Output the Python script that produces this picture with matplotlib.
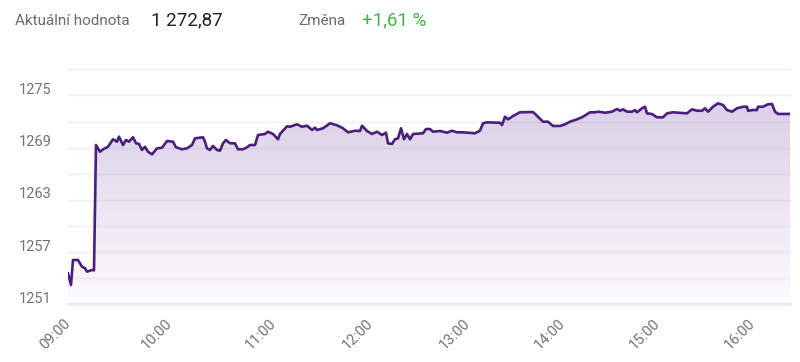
import matplotlib
matplotlib.use("Agg")
import matplotlib.pyplot as plt
import matplotlib.transforms as mtransforms
from matplotlib.colors import LinearSegmentedColormap
import numpy as np

plt.rcParams['font.family'] = ['Roboto', 'DejaVu Sans']

# sample position on the category axis (one slot per trade tick) and index value
slot = [0, 3, 5, 10, 14, 17, 19, 24, 26, 28, 32, 35, 40, 45, 49, 51, 55, 58, 61, 65,
        68, 71, 74, 77, 80, 84, 89, 94, 99, 105, 108, 114, 119, 124, 127, 135, 137, 139, 142, 145,
        149, 152, 155, 158, 162, 167, 170, 175, 179, 182, 187, 190, 197, 200, 205, 210, 212, 219, 222, 229,
        234, 239, 244, 247, 249, 255, 262, 269, 275, 280, 287, 292, 294, 299, 304, 309, 314, 318, 320, 324,
        327, 330, 333, 336, 339, 342, 345, 355, 358, 362, 365, 372, 379, 384, 389, 395, 407, 412, 415, 419,
        432, 434, 437, 440, 445, 452, 465, 470, 475, 480, 485, 492, 497, 502, 509, 515, 522, 527, 530, 537,
        544, 549, 552, 555, 559, 564, 567, 569, 574, 577, 579, 584, 589, 595, 599, 605, 619, 624, 629, 634,
        637, 640, 645, 650, 655, 659, 664, 669, 675, 679, 680, 685, 689, 690, 695, 700, 704, 707, 710, 722]
value = [1254.56, 1253.22, 1256.09, 1256.09, 1255.32, 1255.14, 1254.75, 1254.94, 1254.90, 1269.30,
         1268.53, 1268.80, 1269.10, 1269.96, 1269.68, 1270.26, 1269.30, 1269.88, 1269.68, 1270.19,
         1269.50, 1269.42, 1268.73, 1269.10, 1268.53, 1268.23, 1268.92, 1268.99, 1269.76, 1269.68,
         1269.04, 1268.81, 1268.92, 1269.30, 1270.07, 1270.19, 1269.68, 1268.92, 1268.73, 1269.19,
         1268.73, 1268.65, 1269.50, 1269.88, 1269.50, 1269.50, 1268.81, 1268.81, 1269.04, 1269.30,
         1269.30, 1270.45, 1270.57, 1270.83, 1270.57, 1269.96, 1270.57, 1271.45, 1271.40, 1271.68,
         1271.40, 1271.52, 1271.03, 1271.29, 1271.03, 1271.22, 1271.80, 1271.57, 1271.22, 1270.76,
         1270.94, 1270.91, 1271.52, 1270.91, 1270.57, 1270.83, 1270.45, 1270.72, 1269.50, 1269.42,
         1269.96, 1270.07, 1271.22, 1269.96, 1270.57, 1269.96, 1270.57, 1270.65, 1271.14, 1271.14,
         1270.83, 1270.91, 1270.72, 1270.94, 1270.76, 1270.76, 1270.65, 1270.94, 1271.80, 1271.91,
         1271.86, 1271.60, 1272.55, 1272.25, 1272.63, 1273.06, 1273.09, 1272.55, 1271.98, 1271.98,
         1271.49, 1271.49, 1271.68, 1271.98, 1272.25, 1272.55, 1273.06, 1273.06, 1273.13, 1273.01,
         1273.13, 1273.44, 1273.24, 1273.40, 1273.13, 1273.13, 1273.32, 1273.06, 1273.52, 1273.70,
         1272.94, 1272.86, 1272.48, 1272.48, 1272.94, 1273.06, 1272.94, 1273.40, 1273.24, 1273.24,
         1273.52, 1273.13, 1273.70, 1274.09, 1273.90, 1273.32, 1273.13, 1273.52, 1273.70, 1273.70,
         1273.24, 1273.32, 1273.32, 1273.70, 1273.70, 1273.98, 1274.01, 1273.13, 1272.87, 1272.87]

hour_slots = [0, 102, 206, 303, 400, 495, 590, 685]
hour_labels = ['09:00', '10:00', '11:00', '12:00', '13:00', '14:00', '15:00', '16:00']
y_ticks = [1251, 1257, 1263, 1269, 1275]
grid_vals = list(range(1251, 1279, 3))

x = np.array(slot)
y = np.array(value)

fig = plt.figure(figsize=(8, 3.62), dpi=100)
ax = fig.add_axes([68 / 800, 1 - 304.3 / 362, 722 / 800, 235 / 362])
ax.set_xlim(0, 722)
ax.set_ylim(1251, 1278)

# grid
for g in grid_vals:
    if g == 1251:
        ax.axhline(g, color='#e9edf3', lw=2.2, zorder=1, clip_on=False)
    else:
        ax.axhline(g, color='#efeff3', lw=1, zorder=1, clip_on=False)

# gradient fill under line
purple = (0.43, 0.25, 0.63)
cmap = LinearSegmentedColormap.from_list('fade', [(*purple, 0.02), (*purple, 0.25)])
poly = ax.fill_between(x, y, 1251, color='none', lw=0, zorder=2)
grad = np.linspace(0, 1, 256).reshape(-1, 1)
im = ax.imshow(grad, cmap=cmap, aspect='auto', origin='lower',
               extent=(0, 722, 1251, y.max()), zorder=2)
im.set_clip_path(poly.get_paths()[0], transform=ax.transData)

ax.plot(x, y, color='#4a1d7f', lw=1.9, zorder=3, solid_joinstyle='round')

for s in ax.spines.values():
    s.set_visible(False)

ax.set_yticks(y_ticks)
ax.set_yticklabels([str(t) for t in y_ticks])
ax.set_xticks(hour_slots)
ax.set_xticklabels(hour_labels, rotation=45, ha='right', va='center', rotation_mode='anchor')
ax.tick_params(axis='both', length=0, labelsize=10.5, labelcolor='#737373')
ax.tick_params(axis='y', pad=12)
ax.tick_params(axis='x', pad=12)

shift = mtransforms.ScaledTranslation(0, 7 / 100, fig.dpi_scale_trans)
for lab in ax.get_yticklabels():
    lab.set_transform(lab.get_transform() + shift)

# header
fig.text(15 / 800, 1 - 21 / 362, 'Aktuální hodnota', fontsize=11, color='#6b6b6b', va='center')
fig.text(151 / 800, 1 - 20 / 362, '1 272,87', fontsize=13.5, color='#222222', va='center')
fig.text(298 / 800, 1 - 21 / 362, 'Změna', fontsize=11, color='#6b6b6b', va='center')
fig.text(362 / 800, 1 - 20 / 362, '+1,61 %', fontsize=13.5, color='#45b24a', va='center')

fig.savefig('out.png', dpi=100)
